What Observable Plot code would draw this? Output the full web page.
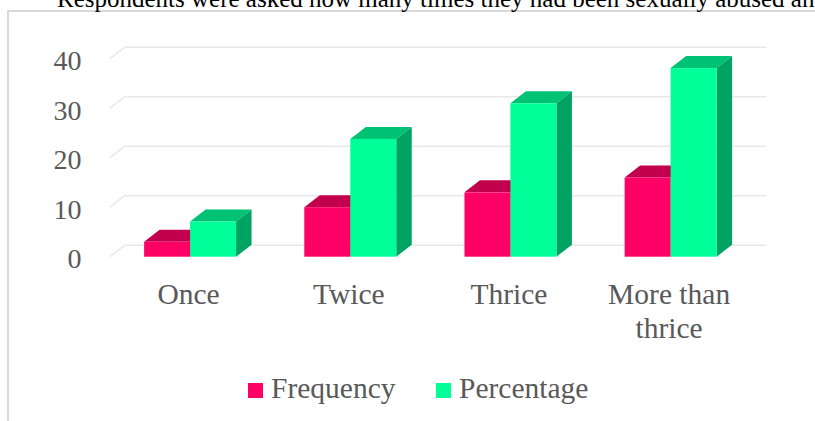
<!DOCTYPE html>
<html>
<head>
<meta charset="utf-8">
<script src="https://cdn.jsdelivr.net/npm/d3@7"></script>
<script src="https://cdn.jsdelivr.net/npm/@observablehq/plot@0.6"></script>
<style>
  body { margin: 0; background: #fff; }
  #wrap { position: relative; width: 815px; height: 421px; overflow: hidden; background: #fff;
          font-family: "Liberation Serif", "Times New Roman", serif; }
  #box { position: absolute; left: 7px; top: 10px; width: 900px; height: 500px;
         border: 2px solid #d9d9d9; box-sizing: border-box; }
  #title { position: absolute; left: 57px; top: -14px; font-size: 25px; line-height: 25px;
           white-space: nowrap; color: #000; }
  #chart { position: absolute; left: 0; top: 0; }
  .leg { position: absolute; top: 374px; font-size: 29.5px; line-height: 29.5px; color: #595959; white-space: nowrap; }
  .sw { display: inline-block; width: 15px; height: 15px; margin-right: 8px; }
</style>
</head>
<body>
<div id="wrap">
  <div id="box"></div>
  <div id="title"></div>
  <div id="chart"></div>
  <div id="legend"></div>
</div>
<script>
// ---- data ----
const titleText = "Respondents were asked how many times they had been sexually abused and";
const categories = ["Once", "Twice", "Thrice", "More than\nthrice"];
const seriesNames = ["Frequency", "Percentage"];
const frequency = [3, 10, 13, 16];
const percentage = [7.1, 23.8, 31.0, 38.1];
const yTicks = [0, 10, 20, 30, 40];
const frontColors = ["#FF0066", "#00FF99"];
const topColors = ["#C2004D", "#00C274"];
const sideColors = ["#A30041", "#00A362"];

// ---- layout constants ----
const BW = 0.287;          // bar width in category units
const DX = 15.5, DY = -12; // 3D depth offset in pixels

document.getElementById("title").textContent = titleText;

const bars = [];
categories.forEach((c, i) => {
  bars.push({i, s: 0, name: seriesNames[0], x1: i - BW, x2: i, v: frequency[i]});
  bars.push({i, s: 1, name: seriesNames[1], x1: i, x2: i + BW, v: percentage[i]});
});
const catData = categories.map((c, i) => ({c, i}));

// side wall diagonals of gridlines
function wallDiagonals(index, scales) {
  const {x, y} = scales;
  const g = d3.create("svg:g").attr("stroke", "#e8e8e8").attr("stroke-width", 1.5).attr("fill", "none");
  const x0 = x(-0.5);
  for (const t of yTicks) {
    g.append("path").attr("d", `M${x0},${y(t)}L${x0 + DX},${y(t) + DY}`);
  }
  return g.node();
}

// top and side faces of bars
function barFaces(index, scales) {
  const {x, y} = scales;
  const g = d3.create("svg:g");
  for (const d of bars) {
    const xa = x(d.x1), xb = x(d.x2), yt = y(d.v), yb = y(0);
    g.append("path")
      .attr("d", `M${xb},${yt}L${xb + DX},${yt + DY}L${xb + DX},${yb + DY}L${xb},${yb}Z`)
      .attr("fill", sideColors[d.s]);
    g.append("path")
      .attr("d", `M${xa},${yt}L${xb},${yt}L${xb + DX},${yt + DY}L${xa + DX},${yt + DY}Z`)
      .attr("fill", topColors[d.s]);
  }
  return g.node();
}

const W = 815, H = 421;
const chart = Plot.plot({
  width: W,
  height: H,
  marginLeft: 110,
  marginRight: 64.3,
  marginTop: 58.7,
  marginBottom: 164.3,
  style: {fontFamily: "Liberation Serif, Times New Roman, serif", background: "transparent", overflow: "visible"},
  x: {domain: [-0.5, 3.5], axis: null},
  y: {domain: [0, 40], axis: null},
  color: {domain: seriesNames, range: frontColors},
  marks: [
    Plot.ruleY(yTicks, {x1: -0.5, x2: 3.5, y: d => d, dx: DX, dy: DY, stroke: "#e8e8e8", strokeWidth: 1.5}),
    wallDiagonals,
    barFaces,
    Plot.rect(bars, {x1: "x1", x2: "x2", y1: 0, y2: "v", fill: "name"}),
    Plot.text(yTicks, {y: d => d, text: d => String(d), frameAnchor: "left", textAnchor: "end",
      dx: -29, dy: 2, fontSize: 28, fill: "#595959"}),
    Plot.text(catData, {x: "i", y: 0, text: "c", lineAnchor: "top", lineHeight: 1.15,
      dx: -2, dy: 23, fontSize: 29.5, fill: "#595959"})
  ]
});
document.getElementById("chart").appendChild(chart);

// legend
const legend = document.getElementById("legend");
const legX = [248, 436];
seriesNames.forEach((n, k) => {
  const item = document.createElement("div");
  item.className = "leg";
  item.style.left = legX[k] + "px";
  const sw = document.createElement("span");
  sw.className = "sw";
  sw.style.background = frontColors[k];
  item.appendChild(sw);
  item.appendChild(document.createTextNode(n));
  legend.appendChild(item);
});
</script>
</body>
</html>
